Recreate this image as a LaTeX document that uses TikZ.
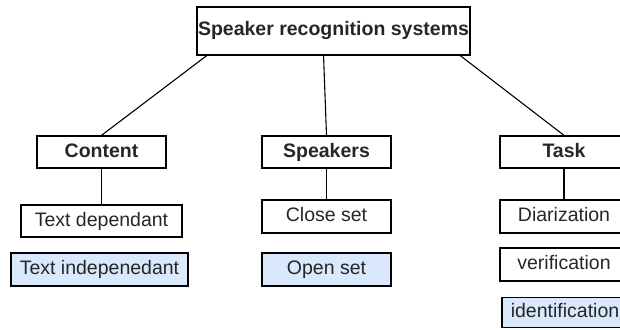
\documentclass[tikz,border=0pt]{standalone}
\usepackage{fontspec}
\setmainfont{Liberation Sans}
\usepackage{tikz}
\usetikzlibrary{arrows,backgrounds}
\definecolor{pickblue}{HTML}{DAE8FC}

\begin{document}
\begin{tikzpicture}[x=1pt,y=-1pt,
    box/.style={draw, line width=1.3pt, inner sep=0pt, minimum height=32pt, text=black!85,
      text height=14pt, text depth=4pt, font=\fontsize{19.5}{23}\selectfont},
    head/.style={box, font=\fontsize{19.5}{23}\selectfont\bfseries},
    pick/.style={box, fill=pickblue}]
      \useasboundingbox (0,0) rectangle (620,329);
      \clip (0,0) rectangle (620,329);
      \node[name=sys, head, minimum width=273pt, minimum height=48pt] at (333.5,31){Speaker recognition systems};
      % first level
      \node[name=content, head, minimum width=129pt] at (101.5,152){Content};
      \node[name=speakers, head, minimum width=129pt] at (326.5,152){Speakers};
      \node[name=task, head, minimum width=128pt] at (564,152){Task};
      % content
      \node[name=dep, box, minimum width=161pt] at (101.5,221){Text dependant};
      \node[name=indep, pick, minimum width=177pt, minimum height=33pt] at (99.5,269.5){Text indepenedant};
      % speakers
      \node[name=closed, box, minimum width=129pt, minimum height=33pt] at (326.5,216.5){Close set};
      \node[name=open, pick, minimum width=129pt, minimum height=33pt] at (326.5,269.5){Open set};
      % task
      \node[name=diar, box, minimum width=128pt, minimum height=33pt] at (564,216.5){Diarization};
      \node[name=verif, box, minimum width=128pt, minimum height=33pt] at (564,264.5){verification};
      \node[name=ident, pick, minimum width=126pt, minimum height=30pt] at (565,312.5){identification};
      \draw[line width=1.1pt] (sys.-169) -- (content.north);
      \draw[line width=1.1pt] (sys.-112) -- (speakers.north);
      \draw[line width=1.1pt] (sys.-11) -- (task.north);
      \draw[line width=1.1pt] (content.south) -- (dep.north);
      \draw[line width=1.1pt] (speakers.south) -- (closed.north);
      \draw[line width=1.1pt] (task.south) -- (diar.north);
    \end{tikzpicture}
\end{document}
